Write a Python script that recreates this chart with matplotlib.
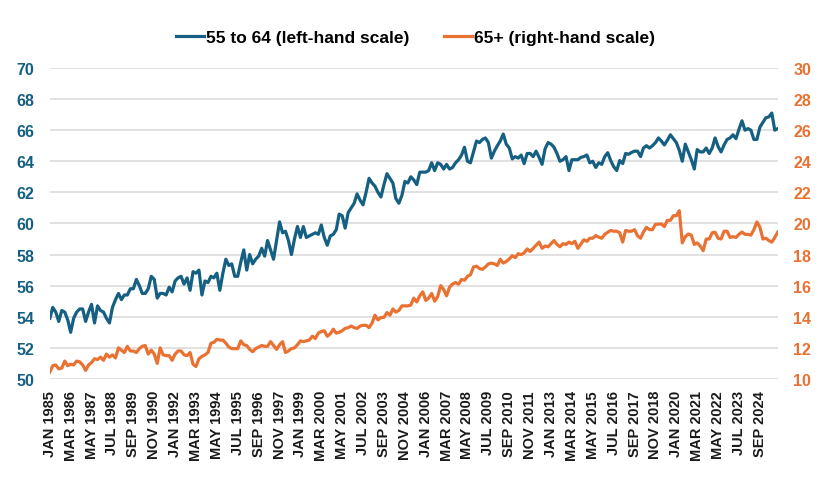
import numpy as np
import pandas as pd
import matplotlib
matplotlib.use("Agg")
import matplotlib.pyplot as plt

# bimonthly readings (Jan, Mar, May, Jul, Sep, Nov), Jan 1985 - Sep 2025
age_55_64 = [
    53.9, 54.6, 54.3, 53.7, 54.4, 54.3,   # 1985
    53.8, 53.0, 53.9, 54.3, 54.5, 54.5,   # 1986
    53.7, 54.3, 54.8, 53.6, 54.7, 54.4,   # 1987
    54.3, 53.9, 53.6, 54.6, 55.1, 55.5,   # 1988
    55.1, 55.4, 55.4, 55.8, 55.8, 56.4,   # 1989
    56.0, 55.5, 55.5, 55.8, 56.6, 56.4,   # 1990
    55.2, 55.5, 55.5, 55.4, 55.9, 55.6,   # 1991
    56.3, 56.5, 56.6, 56.1, 56.5, 55.7,   # 1992
    56.9, 56.8, 57.0, 55.4, 56.3, 56.2,   # 1993
    56.6, 56.5, 56.8, 55.7, 56.8, 57.7,   # 1994
    57.3, 57.4, 56.6, 56.6, 57.5, 58.3,   # 1995
    57.0, 58.0, 57.4, 57.7, 57.9, 58.4,   # 1996
    57.9, 58.9, 58.3, 57.7, 58.9, 60.1,   # 1997
    59.4, 59.5, 58.9, 58.0, 59.0, 59.8,   # 1998
    59.1, 59.8, 59.1, 59.2, 59.3, 59.4,   # 1999
    59.3, 59.9, 59.1, 58.6, 59.2, 59.3,   # 2000
    59.6, 60.6, 60.5, 59.7, 60.7, 61.0,   # 2001
    61.3, 61.9, 61.5, 61.2, 62.0, 62.9,   # 2002
    62.6, 62.4, 62.0, 61.7, 62.5, 63.2,   # 2003
    62.9, 62.6, 61.6, 61.3, 61.8, 62.7,   # 2004
    62.6, 63.0, 62.8, 62.5, 63.3, 63.3,   # 2005
    63.3, 63.4, 63.9, 63.4, 63.9, 63.8,   # 2006
    63.5, 63.8, 63.5, 63.6, 63.9, 64.1,   # 2007
    64.4, 64.9, 64.0, 63.9, 64.6, 65.3,   # 2008
    65.2, 65.4, 65.5, 65.2, 64.2, 64.65,  # 2009
    65.0, 65.3, 65.75, 65.1, 64.85, 64.15,  # 2010
    64.3, 64.2, 64.4, 63.85, 64.5, 64.5,  # 2011
    64.3, 64.65, 64.25, 63.8, 64.8, 65.2,  # 2012
    65.1, 64.9, 64.5, 64.0, 64.1, 64.3,   # 2013
    63.4, 64.1, 64.1, 64.1, 64.25, 64.3,  # 2014
    64.4, 63.9, 64.0, 63.6, 63.9, 63.8,   # 2015
    64.3, 64.55, 64.05, 63.65, 63.4, 64.05,  # 2016
    63.85, 64.5, 64.45, 64.57, 64.65, 64.65,  # 2017
    64.3, 64.85, 65.0, 64.85, 65.0, 65.2,  # 2018
    65.5, 65.3, 65.05, 65.35, 65.7, 65.45,  # 2019
    65.2, 64.7, 64.0, 65.1, 64.6, 64.1,   # 2020
    63.5, 64.75, 64.6, 64.6, 64.85, 64.5,  # 2021
    64.85, 65.5, 64.95, 64.6, 65.05, 65.4,  # 2022
    65.5, 65.7, 65.45, 66.05, 66.6, 66.0,  # 2023
    66.1, 66.0, 65.4, 65.4, 66.2, 66.5,   # 2024
    66.8, 66.85, 67.1, 66.0, 66.1,        # 2025
]

age_65_plus = [
    10.45, 10.85, 10.9, 10.65, 10.7, 11.15,  # 1985
    10.85, 10.95, 10.9, 11.15, 11.1, 10.9,   # 1986
    10.55, 10.9, 11.05, 11.3, 11.25, 11.4,   # 1987
    11.2, 11.6, 11.4, 11.55, 11.35, 12.0,    # 1988
    11.85, 11.7, 12.1, 11.8, 11.8, 11.7,     # 1989
    11.95, 12.1, 12.15, 11.6, 11.85, 11.6,   # 1990
    11.0, 12.0, 11.55, 11.5, 11.5, 11.2,     # 1991
    11.6, 11.8, 11.8, 11.55, 11.5, 11.7,     # 1992
    10.95, 10.8, 11.3, 11.45, 11.55, 11.7,   # 1993
    12.3, 12.35, 12.55, 12.5, 12.5, 12.3,    # 1994
    12.05, 11.95, 11.95, 11.95, 12.45, 12.2,  # 1995
    12.15, 11.9, 11.75, 11.95, 12.05, 12.15,  # 1996
    12.1, 12.1, 12.4, 12.15, 11.9, 12.2,     # 1997
    12.4, 11.7, 11.8, 11.95, 12.0, 12.2,     # 1998
    12.45, 12.4, 12.45, 12.5, 12.75, 12.6,   # 1999
    12.95, 13.05, 13.1, 12.75, 12.9, 13.2,   # 2000
    12.95, 13.0, 13.1, 13.25, 13.3, 13.4,    # 2001
    13.3, 13.25, 13.4, 13.45, 13.45, 13.3,   # 2002
    13.6, 14.1, 13.8, 13.95, 13.96, 14.27,   # 2003
    14.1, 14.5, 14.3, 14.4, 14.7, 14.7,      # 2004
    14.7, 14.75, 15.2, 14.95, 15.35, 15.6,   # 2005
    15.05, 15.2, 15.5, 15.0, 15.3, 16.0,     # 2006
    15.75, 15.35, 15.9, 16.1, 16.2, 16.1,    # 2007
    16.4, 16.35, 16.6, 16.7, 17.2, 17.25,    # 2008
    17.1, 17.05, 17.2, 17.4, 17.45, 17.4,    # 2009
    17.3, 17.7, 17.45, 17.55, 17.72, 17.93,  # 2010
    17.8, 18.05, 18.0, 18.1, 18.36, 18.2,    # 2011
    18.4, 18.6, 18.8, 18.4, 18.55, 18.5,     # 2012
    18.7, 18.9, 18.65, 18.5, 18.7, 18.65,    # 2013
    18.8, 18.7, 18.85, 18.4, 18.68, 18.95,   # 2014
    18.85, 19.05, 19.05, 19.22, 19.12, 19.05,  # 2015
    19.3, 19.43, 19.55, 19.5, 19.5, 19.4,    # 2016
    18.8, 19.55, 19.5, 19.5, 19.6, 19.2,     # 2017
    19.05, 19.45, 19.75, 19.6, 19.6, 19.95,  # 2018
    19.95, 19.97, 19.8, 20.2, 20.2, 20.5,    # 2019
    20.5, 20.82, 18.75, 19.15, 19.32, 19.25,  # 2020
    18.65, 18.75, 18.55, 18.25, 19.0, 19.0,  # 2021
    19.4, 19.43, 19.05, 19.0, 19.5, 19.5,    # 2022
    19.1, 19.15, 19.1, 19.3, 19.45, 19.3,    # 2023
    19.3, 19.25, 19.6, 20.1, 19.75, 19.0,    # 2024
    19.05, 18.9, 18.8, 19.1, 19.45,          # 2025
]

dates = pd.date_range("1985-01-01", periods=len(age_55_64), freq="2MS")
tick_dates = pd.date_range("1985-01-01", "2024-09-01", freq="14MS")
tick_labels = [d.strftime("%b %Y").upper() for d in tick_dates]

blue = "#156082"
orange = "#E97132"
grid_col = "#D9D9D9"
tick_font = ["Liberation Sans", "DejaVu Sans"]

fig = plt.figure(figsize=(8.31, 4.89), dpi=100)
ax = fig.add_axes([0.060, 0.223, 0.876, 0.636])
ax2 = ax.twinx()

l1, = ax.plot(dates, age_55_64, color=blue, lw=2.3, solid_joinstyle="round")
l2, = ax2.plot(dates, age_65_plus, color=orange, lw=2.3, solid_joinstyle="round")

ax.set_ylim(50, 70)
ax2.set_ylim(10, 30)
ax.set_yticks(np.arange(50, 71, 2))
ax2.set_yticks(np.arange(10, 31, 2))
ax.set_xlim(dates[0], dates[-1])
ax.set_xticks(tick_dates)
ax.set_xticklabels(tick_labels, rotation=90, fontsize=10.5, fontweight="bold",
                   family=tick_font, color="#1a1a1a")

ax.grid(axis="y", color=grid_col, lw=1.1)
ax.set_axisbelow(True)
for a in (ax, ax2):
    for s in a.spines.values():
        s.set_visible(False)
    a.tick_params(length=0)

ax.tick_params(axis="x", pad=8)
ax.tick_params(axis="y", pad=11, colors=blue)
ax2.tick_params(axis="y", pad=11, colors=orange)
for t in ax.get_yticklabels() + ax2.get_yticklabels():
    t.set_fontsize(11.5)
    t.set_fontweight("bold")
    t.set_family(tick_font)

fig.legend([l1, l2], ["55 to 64 (left-hand scale)", "65+ (right-hand scale)"],
           loc="center", bbox_to_anchor=(0.5, 0.922), ncol=2, frameon=False,
           handlelength=1.6, handletextpad=0.12, columnspacing=2.0,
           prop={"family": tick_font, "weight": "bold", "size": 12.5})

fig.savefig("out.png", dpi=100)
